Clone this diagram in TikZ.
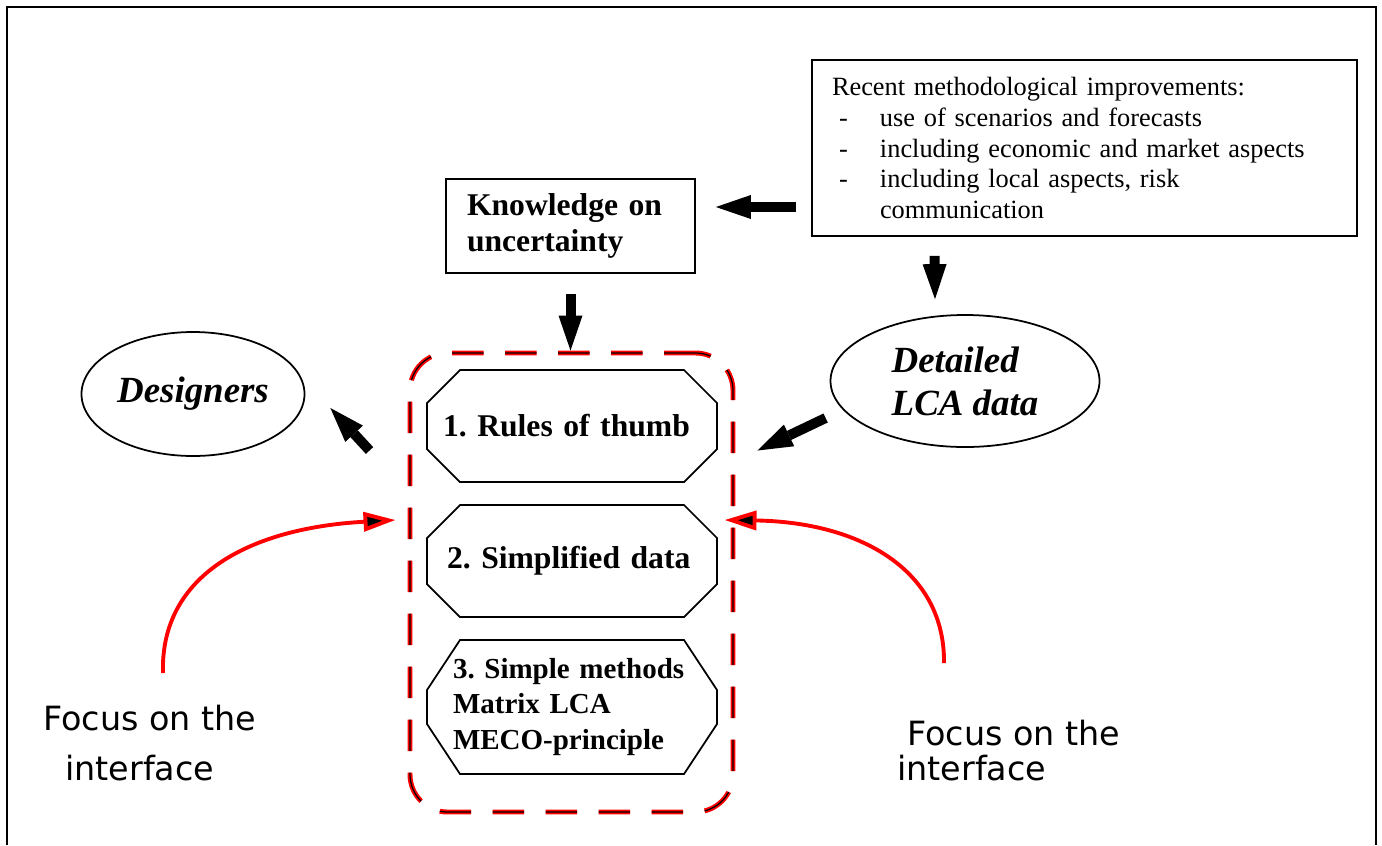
\documentclass[tikz,border=0pt]{standalone}
\usepackage{fontspec}
\setmainfont{Liberation Serif}
\newfontfamily\handfont{DejaVu Sans}
\usetikzlibrary{arrows.meta,shapes.geometric}
\definecolor{lcared}{HTML}{FF0000}
\newcommand{\itemdash}{\makebox[9.6mm][l]{\hspace*{1.4mm}-}}
\tikzset{
  every picture/.style={line join=miter},
  plainbox/.style={draw, line width=1pt, align=left, inner ysep=0pt},
  octbox/.style={minimum width=58mm, inner ysep=0pt, outer sep=0pt, align=left, font=\bfseries\fontsize{18}{20}\selectfont},
  oval/.style={draw, ellipse, line width=1pt, inner sep=0pt, align=left, font=\bfseries\itshape\fontsize{21}{24.5}\selectfont},
  fatarrow/.style={line width=2mm, -{Triangle[length=7mm,width=4.8mm,line width=0pt]}},
  redarrow/.style={draw=lcared, line width=2.2pt, -{Triangle[length=6.4mm,width=3.8mm,fill=black]}},
  focus/.style={anchor=base west, inner sep=0pt, font=\handfont\fontsize{19}{19}\selectfont},
}

\begin{document}
\frenchspacing
\begin{tikzpicture}[x=0.2mm,y=-0.2mm]
\useasboundingbox (0,0) rectangle (1382,845);
\draw[line width=1.2pt] (7,845) -- (7,7) -- (1376,7) -- (1376,845);

\node[plainbox, minimum height=35.2mm, text width=101mm, inner xsep=4mm, font=\fontsize{15}{17.5}\selectfont] (recent) at (1084.5,148)
  {Recent methodological improvements:\\
   \itemdash use of scenarios and forecasts\\
   \itemdash including economic and market aspects\\
   \itemdash including local aspects, risk\\
   \hspace*{9.6mm}communication};
\node[plainbox, minimum height=18.8mm, text width=41.4mm, inner xsep=4.2mm, font=\bfseries\fontsize{18}{20}\selectfont] (know) at (570.5,226) {Knowledge on\\uncertainty};

\node[draw=lcared, line width=2.8pt, dash pattern=on 6.3mm off 4.3mm, rounded corners=7.5mm, minimum width=64.6mm, minimum height=91.8mm,
  postaction={draw=black, line width=0.7pt, dash pattern=on 6.3mm off 4.3mm}] (tools) at (571.5,582.5) {};

\node[octbox, minimum height=22.4mm, text width=51.6mm, inner xsep=3.2mm] (rule1) at (572,426) {1. Rules of thumb};
\node[octbox, minimum height=22.4mm, text width=50mm, inner xsep=4mm] (rule2) at (572,561) {2. Simplified data};
\node[octbox, minimum height=26.8mm, text width=47.6mm, inner xsep=5.2mm, font=\bfseries\fontsize{16.5}{20}\selectfont] (rule3) at (572,707) {3. Simple methods\\Matrix LCA\\MECO-principle};
\foreach \n/\cy in {rule1/6.6mm, rule2/6.6mm, rule3/10mm}
  \draw[line width=1pt] ([xshift=6.6mm]\n.north west) -- ([xshift=-6.6mm]\n.north east) -- ([yshift=-\cy]\n.north east) -- ([yshift=\cy]\n.south east)
    -- ([xshift=-6.6mm]\n.south east) -- ([xshift=6.6mm]\n.south west) -- ([yshift=\cy]\n.south west) -- ([yshift=-\cy]\n.north west) -- cycle;

\node[oval, minimum width=44.6mm, minimum height=24.8mm] (designers) at (193,394) {Designers};
\node[oval, minimum width=53.8mm, minimum height=26.4mm] (detailed) at (965,381) {Detailed\\LCA data};

\draw[fatarrow] ([shift={(-15,59)}]recent.west) -- ([shift={(20,-19)}]know.east);
\draw[fatarrow] ([shift={(-150,19)}]recent.south) -- ([shift={(-30,-15)}]detailed.north);
\draw[fatarrow] ([yshift=-4mm]know.south) -- (know.south |- tools.north);
\draw[fatarrow] ([shift={(-4,37)}]detailed.west) -- ([shift={(22,-132)}]tools.east);
\draw[fatarrow] ([shift={(-38,-132)}]tools.west) -- ([shift={(25,14)}]designers.east);

\node[focus] (focusL1) at (43,730) {Focus on the};
\node[focus] (focusL2) at (65,780) {interface};
\node[focus] (focusR1) at (907,745) {Focus on the};
\node[focus] (focusR2) at (897,780) {interface};
\coordinate (startL) at (163,673);
\coordinate (startR) at (944,663);
\draw[redarrow] (startL) .. controls (160,575) and (250,528) .. ([shift={(-12,-62.5)}]tools.west);
\draw[redarrow] (startR) .. controls (945,570) and (860,522) .. ([shift={(-11,-62.5)}]tools.east);
\end{tikzpicture}
\end{document}
